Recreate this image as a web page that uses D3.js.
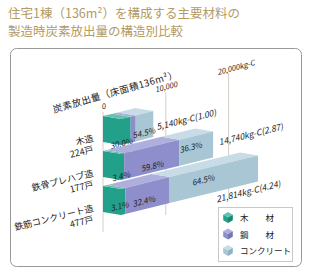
<!DOCTYPE html>
<html lang="ja">
<head>
<meta charset="UTF-8">
<title>構造別 炭素放出量</title>
<script src="https://d3js.org/d3.v7.min.js"></script>
<style>
  body { margin: 0; background: #fff; }
  text { font-family: "Noto Sans CJK JP", "Noto Sans", sans-serif; }
</style>
</head>
<body>
<script>
// data
const categories = ["木造", "鉄骨プレハブ造", "鉄筋コンクリート造"];
const households = ["224戸", "177戸", "477戸"];
const totals = [5140, 14740, 21814];
const ratios = ["1.00", "2.87", "4.24"];
const woodPct = [30.0, 3.4, 3.1];
const steelPct = [15.5, 59.8, 32.4];
const concretePct = [54.5, 36.3, 64.5];
const gridTicks = [0, 10000, 20000];
const gridLabels = ["0", "10,000", "20,000kg-C"];
const materials = ["木　　材", "鋼　　材", "コンクリート"];

// colours per material: [front, top, dark side]
const matColors = [
  ["#22a089", "#63c4ae", "#178873"],
  ["#8d8ecb", "#aeafdc", "#7475b5"],
  ["#a9c6d5", "#c7dce7", "#90b1c2"]
];

// label nudges (style only)
const pctNudge = [
  [[-4, 13], [-7, 21], [0, 7]],
  [[-1, 10], [1, 7], [-5, -1]],
  [[-3, 5], [-3, 6], [-10, 1]]
];
const totalNudge = [[4, 6], [6, 1], [-41, 34]];

const W = 312, H = 276;
const svg = d3.select("body").append("svg")
  .attr("width", W).attr("height", H);

// title
const title = svg.append("g").attr("fill", "#b49a63").attr("font-size", 12.5);
title.append("text").attr("x", 8).attr("y", 18).text("住宅1棟（136m²）を構成する主要材料の");
title.append("text").attr("x", 8).attr("y", 36).text("製造時炭素放出量の構造別比較");

// panel
svg.append("rect")
  .attr("x", 10.5).attr("y", 48.5).attr("width", 291).attr("height", 218)
  .attr("rx", 6).attr("fill", "#fff").attr("stroke", "#999").attr("stroke-width", 1);

// oblique projection
const X0 = 121, SLOPE = 0.245, DX = 18, DY = 3, BH = 26;
const len = d3.scaleLinear().domain([0, 20000]).range([0, 125.6]);
const rowTop = d3.scalePoint().domain(categories).range([119, 189]);

function P(v, s, h, top) {
  const l = len(v);
  return [X0 + l - s * DX, top + BH * (1 - h) - l * SLOPE - s * DY];
}
const poly = pts => pts.map(p => p.join(",")).join(" ");

// grid lines on the back plane
const grid = svg.append("g");
gridTicks.forEach((v, i) => {
  const x = X0 - DX + len(v);
  const yTop = 112 - len(v) * 0.31;
  const yBot = 232 - len(v) * 0.27;
  grid.append("line")
    .attr("x1", x).attr("x2", x).attr("y1", yTop).attr("y2", yBot)
    .attr("stroke", "#d3cfc7").attr("stroke-width", 1);
  grid.append("text")
    .attr("transform", `translate(${x + (i === 2 ? 8 : 1)},${yTop - 3}) rotate(-15)`)
    .attr("text-anchor", "middle").attr("font-size", 7.5).attr("fill", "#222")
    .attr("font-style", "italic")
    .text(gridLabels[i]);
});

// axis title
svg.append("text")
  .attr("transform", "translate(54,113) rotate(-16)")
  .attr("font-size", 9.5).attr("fill", "#222").attr("letter-spacing", 0.4)
  .text("炭素放出量（床面積136m²）");

// bars
categories.forEach((cat, i) => {
  const top = rowTop(cat);
  const g = svg.append("g");
  const pcts = [woodPct[i], steelPct[i], concretePct[i]];
  const total = totals[i];

  // left end cap
  g.append("polygon")
    .attr("points", poly([P(0, 0, 0, top), P(0, 1, 0, top), P(0, 1, 1, top), P(0, 0, 1, top)]))
    .attr("fill", matColors[0][0]);

  let acc = 0;
  pcts.forEach((p, k) => {
    const a = acc, b = acc + total * p / 100;
    acc = b;
    g.append("polygon")
      .attr("points", poly([P(a, 0, 1, top), P(b, 0, 1, top), P(b, 1, 1, top), P(a, 1, 1, top)]))
      .attr("fill", matColors[k][1]);
    g.append("polygon")
      .attr("points", poly([P(a, 0, 0, top), P(b, 0, 0, top), P(b, 0, 1, top), P(a, 0, 1, top)]))
      .attr("fill", matColors[k][0]);
  });

  // percent labels
  acc = 0;
  pcts.forEach((p, k) => {
    const a = acc, b = acc + total * p / 100;
    acc = b;
    const c = P((a + b) / 2, 0, 0.4, top);
    g.append("text")
      .attr("transform", `translate(${c[0] + pctNudge[i][k][0]},${c[1] + pctNudge[i][k][1]}) rotate(-14)`)
      .attr("text-anchor", "middle").attr("font-size", 8).attr("fill", "#222")
      .attr("font-style", "italic")
      .text(p.toFixed(1) + "%");
  });

  // total label
  const e = P(total, 0, 0.5, top);
  g.append("text")
    .attr("transform", `translate(${e[0] + totalNudge[i][0]},${e[1] + totalNudge[i][1]}) rotate(-14)`)
    .attr("font-size", 8.5).attr("fill", "#222").attr("font-style", "italic")
    .text(d3.format(",")(total) + "kg-C(" + ratios[i] + ")");

  // category labels
  svg.append("text")
    .attr("transform", `translate(94,${top + 22}) rotate(-14)`)
    .attr("text-anchor", "end").attr("font-size", 9).attr("fill", "#222")
    .text(cat);
  svg.append("text")
    .attr("transform", `translate(94,${top + 33}) rotate(-14)`)
    .attr("text-anchor", "end").attr("font-size", 9).attr("fill", "#222")
    .text(households[i]);
});

// legend
const lg = svg.append("g");
lg.append("rect")
  .attr("x", 218.5).attr("y", 207.5).attr("width", 74).attr("height", 54)
  .attr("fill", "#fff").attr("stroke", "#c8c8c8");
materials.forEach((m, k) => {
  const cx = 228, cy = 212 + k * 16.5, s = 5.5, w = s * 0.87;
  const c = matColors[k];
  lg.append("polygon").attr("fill", c[1])
    .attr("points", poly([[cx, cy], [cx + w, cy + s / 2], [cx, cy + s], [cx - w, cy + s / 2]]));
  lg.append("polygon").attr("fill", c[0])
    .attr("points", poly([[cx - w, cy + s / 2], [cx, cy + s], [cx, cy + 2 * s], [cx - w, cy + 1.5 * s]]));
  lg.append("polygon").attr("fill", c[2])
    .attr("points", poly([[cx, cy + s], [cx + w, cy + s / 2], [cx + w, cy + 1.5 * s], [cx, cy + 2 * s]]));
  lg.append("text")
    .attr("x", 240).attr("y", cy + 9).attr("font-size", 8.5).attr("fill", "#222")
    .text(m);
});
</script>
</body>
</html>
